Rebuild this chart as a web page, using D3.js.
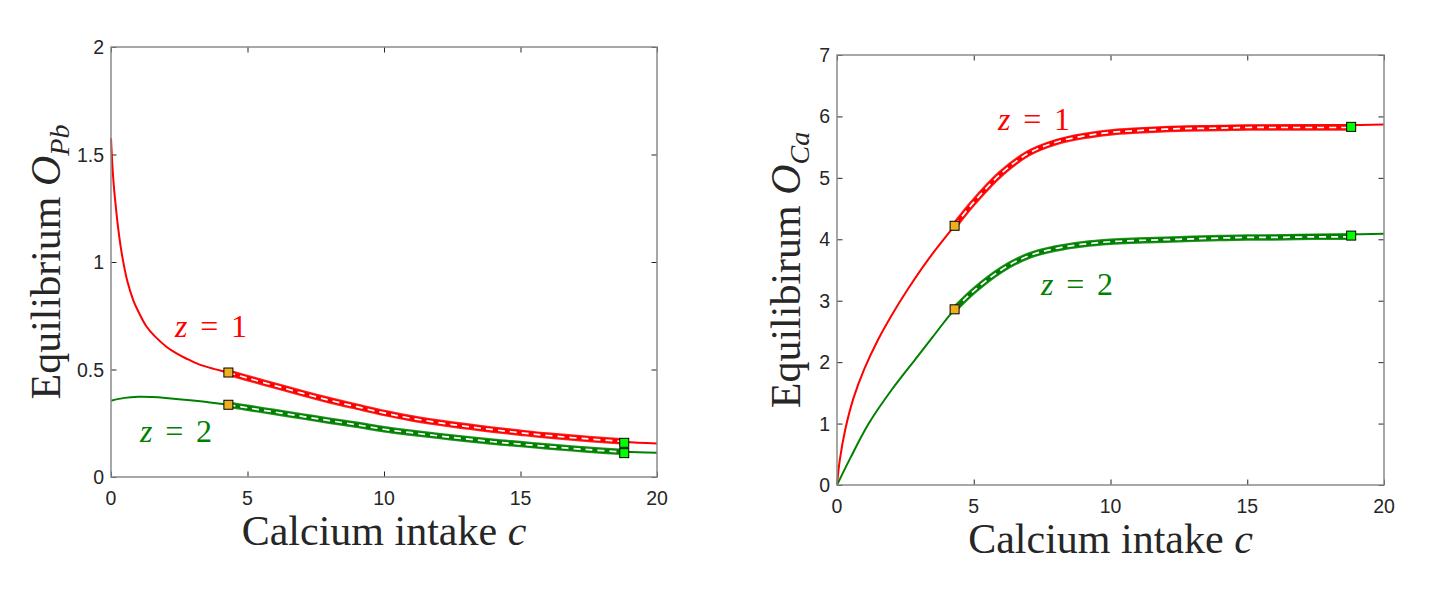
<!DOCTYPE html>
<html><head><meta charset="utf-8">
<script src="https://cdn.jsdelivr.net/npm/d3@7"></script>
<style>body{margin:0;background:#fff}svg{display:block}</style>
</head><body>
<svg id="chart" width="1440" height="597"></svg>
<script>
// ---- data ----
const xTicks = [0, 5, 10, 15, 20];
const yTicksPb = [0, 0.5, 1, 1.5, 2];
const yTicksCa = [0, 1, 2, 3, 4, 5, 6, 7];

// left panel: Equilibrium O_Pb
const cPbRed = [0,0.05,0.1,0.15,0.25,0.35,0.45,0.6,0.82,1.0,1.3,1.6,2.04,2.4,2.77,3.2,3.76,4.3,5,6,7,8,9,10,11,12.5,14,15,16,17.5,18.8,20];
const pbRed  = [1.575,1.45,1.36,1.29,1.17,1.075,1.0,0.91,0.82,0.77,0.70,0.655,0.605,0.575,0.55,0.525,0.503,0.486,0.46,0.425,0.39,0.357,0.327,0.298,0.273,0.243,0.218,0.203,0.19,0.174,0.163,0.156];
const cPbGreen = [0,0.5,1,1.5,2,3,4.3,5,6,7,8,9,10,11,12.5,14,15,16,17.5,18.8,20];
const pbGreen  = [0.355,0.368,0.373,0.372,0.368,0.356,0.336,0.322,0.302,0.282,0.262,0.243,0.222,0.206,0.184,0.164,0.153,0.143,0.128,0.118,0.113];
// band (dashed) series between the markers
const cBand = [4.3,5,6,7,8,9,10,11,12.5,14,15,16,17.5,18.8];
const pbRedBand   = [0.486,0.46,0.425,0.39,0.357,0.327,0.298,0.273,0.244,0.22,0.206,0.193,0.177,0.165];
const pbGreenBand = [0.336,0.322,0.302,0.282,0.262,0.243,0.222,0.206,0.184,0.164,0.153,0.142,0.127,0.116];
const pbMarkStart = [0.486, 0.336];
const pbMarkEnd   = [0.159, 0.111];

// right panel: Equilibrium O_Ca
const cCaRed = [0,0.1,0.3,0.6,1.0,1.5,2.0,2.6,3.3,4.3,5,6,7,8,9,10,12,15,18.8,20];
const caRed  = [0,0.4,0.9,1.41,1.89,2.365,2.765,3.195,3.65,4.22,4.605,5.07,5.41,5.6,5.7,5.76,5.82,5.85,5.86,5.87];
const cCaGreen = [0,0.5,1.16,2,2.87,3.5,4.3,5,6,7,8,9.6,12,15,18.8,20];
const caGreen  = [0,0.45,1.0,1.55,2.05,2.41,2.86,3.16,3.5,3.74,3.86,3.95,4.01,4.05,4.08,4.09];
const caRedBand   = [4.22,4.605,5.07,5.4,5.58,5.68,5.74,5.77,5.8,5.81,5.82,5.82,5.82,5.82];
const caGreenBand = [2.86,3.16,3.5,3.73,3.85,3.92,3.96,3.98,4.0,4.02,4.03,4.03,4.04,4.04];
const caMarkStart = [4.22, 2.86];
const caMarkEnd   = [5.83, 4.06];

const markC = [4.3, 18.8];
const seriesColors = ["#ff0000", "#008000"];

const svg = d3.select("#chart");

function panel(o) {
  const x = d3.scaleLinear().domain([0, 20]).range([o.left, o.right]);
  const y = d3.scaleLinear().domain(o.yDomain).range([o.bottom, o.top]);
  const g = svg.append("g");

  // ticks (inward, all four sides)
  const tl = 5.5;
  g.append("g").attr("transform", `translate(0,${o.bottom})`)
    .call(d3.axisBottom(x).tickValues(xTicks).tickSize(-tl).tickFormat(""))
    .call(s => s.select(".domain").remove());
  g.append("g").attr("transform", `translate(0,${o.top})`)
    .call(d3.axisTop(x).tickValues(xTicks).tickSize(-tl).tickFormat(""))
    .call(s => s.select(".domain").remove());
  g.append("g").attr("transform", `translate(${o.left},0)`)
    .call(d3.axisLeft(y).tickValues(o.yTicks).tickSize(-tl).tickFormat(""))
    .call(s => s.select(".domain").remove());
  g.append("g").attr("transform", `translate(${o.right},0)`)
    .call(d3.axisRight(y).tickValues(o.yTicks).tickSize(-tl).tickFormat(""))
    .call(s => s.select(".domain").remove());
  g.selectAll(".tick line").attr("stroke", "#262626").attr("stroke-width", 1);

  // tick labels
  g.selectAll(".xl").data(xTicks).join("text")
    .attr("x", d => x(d)).attr("y", o.bottom + 28)
    .attr("text-anchor", "middle")
    .attr("font-family", "Liberation Sans, Arial, sans-serif").attr("font-size", 19.5)
    .attr("fill", "#262626").text(d => d);
  g.selectAll(".yl").data(o.yTicks).join("text")
    .attr("x", o.left - 7).attr("y", d => y(d) + 7)
    .attr("text-anchor", "end")
    .attr("font-family", "Liberation Sans, Arial, sans-serif").attr("font-size", 19.5)
    .attr("fill", "#262626").text(d => d);

  const line = d3.line().x(d => x(d[0])).y(d => y(d[1])).curve(d3.curveCatmullRom.alpha(0.5));
  const plot = g.append("g");

  // thin full curves
  o.thin.forEach((s, i) => {
    plot.append("path").attr("d", line(d3.zip(s.c, s.v)))
      .attr("fill", "none").attr("stroke", seriesColors[i]).attr("stroke-width", 2);
  });
  // thick bands with white dashes
  o.band.forEach((v, i) => {
    const pts = d3.zip(cBand, v);
    plot.append("path").attr("d", line(pts))
      .attr("fill", "none").attr("stroke", seriesColors[i]).attr("stroke-width", 6.5).attr("stroke-opacity", 0.85);
    plot.append("path").attr("d", line(pts))
      .attr("fill", "none").attr("stroke", seriesColors[i]).attr("stroke-width", 4.5);
    plot.append("path").attr("d", line(pts))
      .attr("fill", "none").attr("stroke", "#ffffff").attr("stroke-width", 1.7)
      .attr("stroke-dasharray", "7,5");
  });
  // markers
  const ms = 9;
  o.markStart.forEach(v => {
    plot.append("rect").attr("x", x(markC[0]) - ms/2).attr("y", y(v) - ms/2)
      .attr("width", ms).attr("height", ms)
      .attr("fill", "#edb120").attr("stroke", "#000").attr("stroke-width", 1);
  });
  o.markEnd.forEach(v => {
    plot.append("rect").attr("x", x(markC[1]) - ms/2).attr("y", y(v) - ms/2)
      .attr("width", ms).attr("height", ms)
      .attr("fill", "#00ff00").attr("stroke", "#000").attr("stroke-width", 1);
  });

  // box
  g.append("rect").attr("x", o.left).attr("y", o.top)
    .attr("width", o.right - o.left).attr("height", o.bottom - o.top)
    .attr("fill", "none").attr("stroke", "#8a8a8a").attr("stroke-width", 1.5);

  // z labels
  o.zLabels.forEach((zl, i) => {
    const t = g.append("text").attr("x", zl[0]).attr("y", zl[1])
      .attr("font-family", "Liberation Serif, DejaVu Serif, serif").attr("font-size", 32)
      .attr("fill", seriesColors[i])
      .attr("textLength", 72).attr("lengthAdjust", "spacing");
    t.append("tspan").attr("font-style", "italic").text("z");
    t.append("tspan").text(" = " + (i + 1));
  });

  // axis labels
  g.append("text").attr("x", (o.left + o.right) / 2).attr("y", o.bottom + 68)
    .attr("text-anchor", "middle")
    .attr("font-family", "Liberation Serif, DejaVu Serif, serif").attr("font-size", 42)
    .attr("fill", "#262626")
    .call(t => {
      t.append("tspan").text("Calcium intake ");
      t.append("tspan").attr("font-style", "italic").text("c");
    });
  const yl = g.append("text")
    .attr("transform", `translate(${o.ylabX},${(o.top + o.bottom) / 2}) rotate(-90)`)
    .attr("text-anchor", "middle")
    .attr("font-family", "Liberation Serif, DejaVu Serif, serif").attr("font-size", 42)
    .attr("fill", "#262626");
  yl.append("tspan").text(o.yTitle + " ");
  yl.append("tspan").attr("font-style", "italic").text("O");
  yl.append("tspan").attr("font-style", "italic").attr("font-size", 28).attr("dy", 9).text(o.ySub);
}

panel({
  left: 111, right: 657, top: 47, bottom: 477,
  yDomain: [0, 2], yTicks: yTicksPb,
  thin: [{c: cPbRed, v: pbRed}, {c: cPbGreen, v: pbGreen}],
  band: [pbRedBand, pbGreenBand],
  markStart: pbMarkStart, markEnd: pbMarkEnd,
  zLabels: [[175, 337], [140, 442]],
  yTitle: "Equilibrium", ySub: "Pb", ylabX: 60
});
panel({
  left: 837, right: 1384, top: 55, bottom: 485,
  yDomain: [0, 7], yTicks: yTicksCa,
  thin: [{c: cCaRed, v: caRed}, {c: cCaGreen, v: caGreen}],
  band: [caRedBand, caGreenBand],
  markStart: caMarkStart, markEnd: caMarkEnd,
  zLabels: [[998, 130], [1041, 295]],
  yTitle: "Equilibirum", ySub: "Ca", ylabX: 800
});
</script>
</body></html>
